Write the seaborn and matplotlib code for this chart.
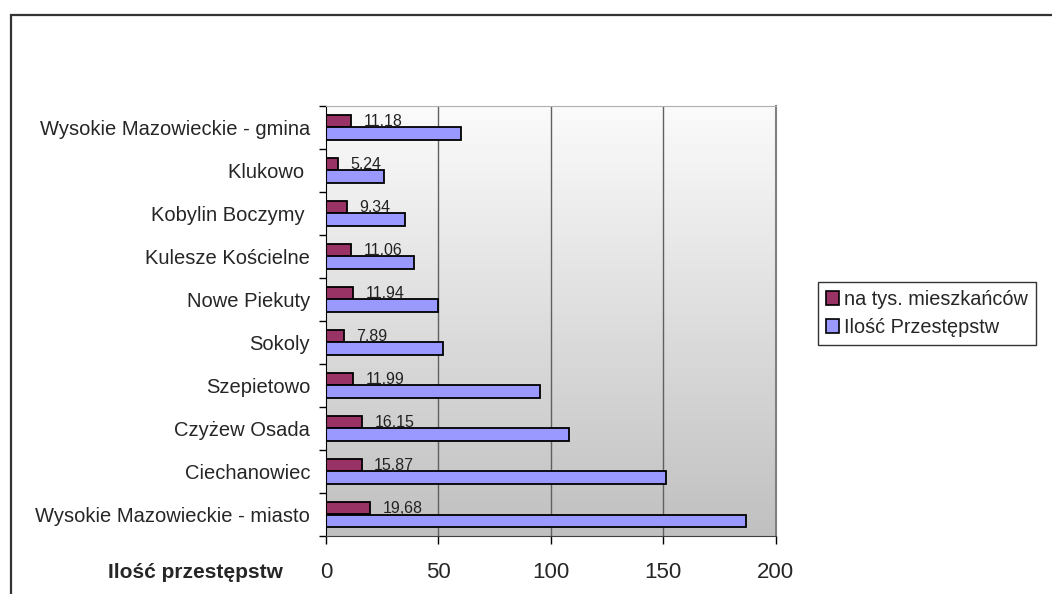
"""
Przestepstwa w gminach - wykres slupkowy poziomy
"""

import numpy as np
import pandas as pd
from matplotlib import pyplot as plt
from matplotlib.patches import Patch, Rectangle
import seaborn as sns

gminy = [
    "Wysokie Mazowieckie - gmina",
    "Klukowo ",
    "Kobylin Boczymy ",
    "Kulesze Kościelne",
    "Nowe Piekuty",
    "Sokoly",
    "Szepietowo",
    "Czyżew Osada",
    "Ciechanowiec",
    "Wysokie Mazowieckie - miasto",
]
na_tys = [11.18, 5.24, 9.34, 11.06, 11.94, 7.89, 11.99, 16.15, 15.87, 19.68]
ilosc = [60, 26, 35, 39, 50, 52, 95, 108, 151, 187]
serie = ["na tys. mieszkańców", "Ilość Przestępstw"]
kolory = ["#993366", "#9999FF"]
x_ticks = [0, 50, 100, 150, 200]

df = pd.DataFrame({
    "gmina": gminy * 2,
    "wartosc": na_tys + ilosc,
    "seria": [serie[0]] * len(gminy) + [serie[1]] * len(gminy),
})

sns.set_style("white")
plt.rcParams["font.family"] = ["Liberation Sans", "DejaVu Sans"]

fig = plt.figure(figsize=(10.52, 5.94), dpi=100)
ax = fig.add_axes([326 / 1052, 1 - 536 / 594, (775.7 - 326) / 1052, (536 - 106) / 594])

# gradient background of the plot area
grad = np.linspace(0, 1, 256).reshape(-1, 1)
ax.imshow(grad, cmap=sns.blend_palette(["#fbfbfb", "#c0c0c0"], as_cmap=True),
          extent=[0, 1, 0, 1], transform=ax.transAxes, aspect="auto", zorder=0)

sns.barplot(
    data=df, y="gmina", x="wartosc", hue="seria", hue_order=serie,
    palette=kolory, saturation=1, orient="h", width=0.58, edgecolor="black",
    linewidth=1.3, legend=False, ax=ax, zorder=3,
)

ax.bar_label(ax.containers[0],
             labels=[f"{v:.2f}".replace(".", ",") for v in na_tys],
             padding=9, fontsize=11.5, color="#222222", zorder=4)

ax.set_xlim(0, 200)
ax.set_ylim(9.5, -0.5)
ax.set_xticks(x_ticks)
ax.set_xticklabels([str(t) for t in x_ticks], fontsize=16)
ax.set_xlabel("")
ax.set_ylabel("")
for t in x_ticks[1:-1]:
    ax.axvline(t, color="#606060", lw=1, zorder=1)

ax.tick_params(axis="x", length=6, width=1, color="black", pad=13, bottom=True)
ax.tick_params(axis="y", which="major", length=0, pad=11.5, labelsize=14.5)
ax.set_yticks(np.arange(-0.5, 10, 1), minor=True)
ax.tick_params(axis="y", which="minor", length=5, width=1, color="black", left=True)

ax.spines["left"].set_color("black")
ax.spines["bottom"].set_color("#404040")
ax.spines["right"].set_color("#808080")
ax.spines["right"].set_linewidth(1.5)
ax.spines["top"].set_color("#b0b0b0")
for s in ax.spines.values():
    s.set_zorder(5)

fig.text(283 / 1052, 1 - 573 / 594, "Ilość przestępstw", fontsize=15,
         fontweight="bold", ha="right", va="center")

handles = [Patch(facecolor=c, edgecolor="black", linewidth=1.2) for c in kolory]
leg = fig.legend(handles, serie, loc="upper left", bbox_to_anchor=(818 / 1052, 1 - 282 / 594),
                 bbox_transform=fig.transFigure, fontsize=14.3, frameon=True, fancybox=False,
                 handlelength=0.65, handleheight=0.65, handletextpad=0.25,
                 borderpad=0.4, labelspacing=0.45, borderaxespad=0)
leg.get_frame().set_edgecolor("black")
leg.get_frame().set_linewidth(1)

# outer chart frame
fig.patches.append(Rectangle((11 / 1052, -0.1), 1.2, 1.1 - 15 / 594,
                             transform=fig.transFigure, fill=False,
                             edgecolor="#333333", linewidth=1.6, zorder=0))

fig.savefig("out.png", dpi=100)
